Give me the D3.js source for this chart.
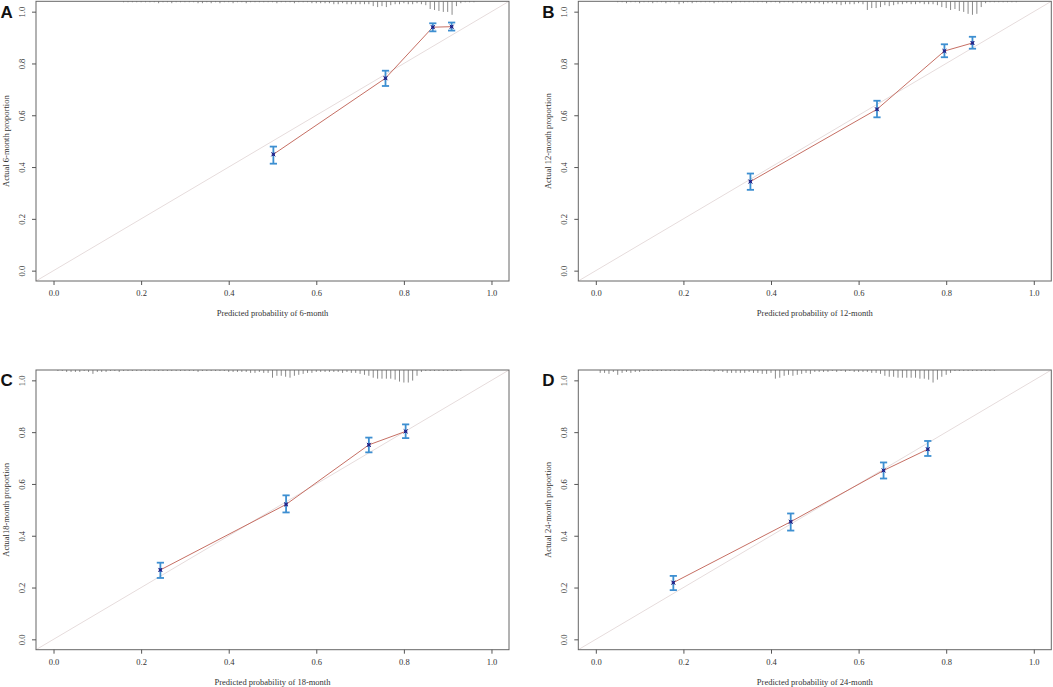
<!DOCTYPE html>
<html><head><meta charset="utf-8">
<script src="https://cdn.jsdelivr.net/npm/d3@7/dist/d3.min.js"></script>
<style>
html,body{margin:0;padding:0;background:#fff;}
svg{display:block;}
</style></head>
<body>
<script>
// ---- data ----
const panelLetters = ["A", "B", "C", "D"];
const yTitles = ["Actual 6-month proportion", "Actual 12-month proportion", "Actual18-month proportion", "Actual 24-month proportion"];
const xTitles = ["Predicted probability of 6-month", "Predicted probability of 12-month", "Predicted probability of 18-month", "Predicted probability of 24-month"];
const tickValues = [0, 0.2, 0.4, 0.6, 0.8, 1.0];
const tickLabels = ["0.0", "0.2", "0.4", "0.6", "0.8", "1.0"];

const predA = [0.502, 0.758, 0.866, 0.909];
const obsA  = [0.449, 0.743, 0.940, 0.942];
const lowA  = [0.413, 0.713, 0.924, 0.927];
const highA = [0.479, 0.772, 0.955, 0.958];

const predB = [0.353, 0.642, 0.796, 0.860];
const obsB  = [0.344, 0.623, 0.848, 0.879];
const lowB  = [0.312, 0.592, 0.824, 0.857];
const highB = [0.375, 0.656, 0.874, 0.903];

const predC = [0.244, 0.531, 0.720, 0.804];
const obsC  = [0.268, 0.521, 0.751, 0.803];
const lowC  = [0.237, 0.490, 0.722, 0.777];
const highC = [0.296, 0.556, 0.779, 0.830];

const predD = [0.177, 0.445, 0.657, 0.758];
const obsD  = [0.219, 0.454, 0.652, 0.734];
const lowD  = [0.190, 0.420, 0.621, 0.708];
const highD = [0.245, 0.486, 0.683, 0.766];

// spike histogram of predicted probabilities (bin width 0.01), relative counts
const spikeStep = 0.01;
const spikeStartA = 0.16;
const spikeA = [1,1,1,1,1,1,1,1,2,1,1,2,1,1,1,
  1,1,2,2,1,2,1,2,1,1,
  2,1,1,2,1,1,1,1,1,1,
  2,1,1,1,2,1,1,1,2,2,
  2,2,2,3,3,2,3,3,3,3,
  3,3,5,6,5,6,4,3,3,2,
  3,3,2,3,4,8,9,10,11,11,
  14,5,2,1,1,1];
const spikeStartB = 0.05;
const spikeB = [1,1,2,1,1,2,1,1,2,1,
  1,2,1,1,3,2,1,2,1,1,
  1,1,2,1,1,1,2,1,1,1,
  1,1,1,1,2,1,1,2,1,1,
  2,1,2,2,2,2,2,3,2,2,
  3,4,3,3,3,2,3,9,7,7,
  6,4,5,4,3,3,2,3,3,2,
  3,3,3,4,6,7,9,8,10,11,
  13,14,13,6,2,1,1,1,1,1,
  1,1];
const spikeStartC = 0.01;
const spikeC = [1,1,2,2,2,2,1,2,4,2,
  2,2,1,1,2,1,1,1,1,1,
  1,1,1,1,1,1,1,1,1,1,
  1,1,2,1,1,1,1,1,1,2,
  2,2,2,2,3,3,2,3,3,8,
  6,6,7,8,6,5,4,3,3,2,
  2,2,2,2,2,3,2,3,3,4,
  5,6,8,9,9,9,9,10,12,13,
  13,11,6,2,1,1,1,1,1,1,
  1,1,1];
const spikeStartD = 0.01;
const spikeD = [3,3,4,2,5,3,2,3,2,2,
  1,1,1,1,1,1,1,1,1,1,
  1,1,1,1,1,1,2,1,2,3,
  3,3,3,3,2,3,3,4,4,3,
  9,8,6,5,6,5,4,3,4,2,
  2,2,2,1,2,1,2,1,2,2,
  2,2,3,3,4,6,7,7,8,8,
  8,8,8,9,9,10,13,10,7,5,
  3,1,1,1,1,1,1,1,1,1,
  1];

const preds = [predA, predB, predC, predD];
const obss = [obsA, obsB, obsC, obsD];
const lows = [lowA, lowB, lowC, lowD];
const highs = [highA, highB, highC, highD];
const spikes = [spikeA, spikeB, spikeC, spikeD];
const spikeStarts = [spikeStartA, spikeStartB, spikeStartC, spikeStartD];

// ---- layout ----
const W = 1053, H = 687;
const svg = d3.select("body").append("svg").attr("width", W).attr("height", H);
const colX = [0, 542.3];
const rowY = [0, 368.7];
const plotL = 36, plotW = 473, plotT = 1.3, plotH = 279.7;
const spikeScale = d3.scaleLinear().domain([0, 14]).range([0, 13.5]);

svg.append("defs").selectAll("clipPath").data(panelLetters).join("clipPath")
  .attr("id", (d, i) => "clip" + i)
  .append("rect").attr("x", 0).attr("y", 0).attr("width", plotW).attr("height", plotH);

panelLetters.forEach((letter, i) => {
  const ox = colX[i % 2], oy = rowY[Math.floor(i / 2)];
  const g = svg.append("g").attr("transform", `translate(${ox + plotL},${oy + plotT})`);
  const x = d3.scaleLinear().domain([-0.04, 1.04]).range([0, plotW]);
  const y = d3.scaleLinear().domain([-0.04, 1.04]).range([plotH, 0]);

  // diagonal reference line
  g.append("line").attr("clip-path", `url(#clip${i})`)
    .attr("x1", x(-0.04)).attr("y1", y(-0.04)).attr("x2", x(1.04)).attr("y2", y(1.04))
    .attr("stroke", "#e6dcdc").attr("stroke-width", 1);

  // spikes
  const sp = spikes[i].map((c, k) => ({ x: spikeStarts[i] + k * spikeStep, c }));
  g.append("g").selectAll("line").data(sp).join("line")
    .attr("x1", d => x(d.x)).attr("x2", d => x(d.x))
    .attr("y1", 0).attr("y2", d => spikeScale(d.c))
    .attr("stroke", "#8a8a8a").attr("stroke-width", 1);

  // calibration line
  const pts = preds[i].map((p, k) => ({ p, o: obss[i][k], lo: lows[i][k], hi: highs[i][k] }));
  g.append("path").datum(pts)
    .attr("d", d3.line().x(d => x(d.p)).y(d => y(d.o)))
    .attr("fill", "none").attr("stroke", "#c66f64").attr("stroke-width", 1);

  // error bars
  const eb = g.append("g").attr("stroke", "#3d8fd1").attr("stroke-width", 1.8).attr("fill", "none");
  pts.forEach(d => {
    eb.append("line").attr("x1", x(d.p)).attr("x2", x(d.p)).attr("y1", y(d.lo)).attr("y2", y(d.hi));
    eb.append("line").attr("x1", x(d.p) - 3.6).attr("x2", x(d.p) + 3.6).attr("y1", y(d.lo)).attr("y2", y(d.lo));
    eb.append("line").attr("x1", x(d.p) - 3.6).attr("x2", x(d.p) + 3.6).attr("y1", y(d.hi)).attr("y2", y(d.hi));
  });

  // points
  g.append("g").selectAll("rect").data(pts).join("rect")
    .attr("x", d => x(d.p) - 1.6).attr("y", d => y(d.o) - 1.6).attr("width", 3.2).attr("height", 3.2)
    .attr("fill", "#3a3fa8");
  g.append("g").selectAll("path").data(pts).join("path")
    .attr("transform", d => `translate(${x(d.p)},${y(d.o)})`)
    .attr("d", d3.symbol(d3.symbolTimes, 12))
    .attr("fill", "none").attr("stroke", "#1b1f7a").attr("stroke-width", 1);

  // frame
  g.append("rect").attr("x", 0).attr("y", 0).attr("width", plotW).attr("height", plotH)
    .attr("fill", "none").attr("stroke", "#666").attr("stroke-width", 1);

  // axes
  const xa = g.append("g").attr("transform", `translate(0,${plotH})`)
    .call(d3.axisBottom(x).tickValues(tickValues).tickFormat((d, k) => tickLabels[k]).tickSizeOuter(0).tickSize(4).tickPadding(5));
  const ya = g.append("g")
    .call(d3.axisLeft(y).tickValues(tickValues).tickFormat((d, k) => tickLabels[k]).tickSizeOuter(0).tickSize(4).tickPadding(5));
  [xa, ya].forEach(a => {
    a.select(".domain").remove();
    a.selectAll(".tick line").attr("stroke", "#555");
    a.selectAll("text").attr("font-family", "Liberation Serif, Times New Roman, serif")
      .attr("font-size", 8.5).attr("fill", "#333");
  });
  ya.selectAll(".tick text")
    .attr("transform", function () { return "rotate(-90)"; })
    .attr("x", 0).attr("dy", 0).attr("y", -11).attr("text-anchor", "middle");

  // titles
  g.append("text").attr("x", plotW / 2).attr("y", plotH + 35)
    .attr("text-anchor", "middle").attr("font-family", "Liberation Serif, Times New Roman, serif")
    .attr("font-size", 8.5).attr("fill", "#333").text(xTitles[i]);
  g.append("text").attr("transform", `translate(${-27.3},${plotH / 2}) rotate(-90)`)
    .attr("text-anchor", "middle").attr("font-family", "Liberation Serif, Times New Roman, serif")
    .attr("font-size", 8.5).attr("fill", "#333").text(yTitles[i]);

  // panel letter
  svg.append("text").attr("x", ox + (i % 2 ? 0 : 0.5)).attr("y", oy + 17.5)
    .attr("font-family", "Liberation Sans, Arial, sans-serif").attr("font-weight", "bold")
    .attr("font-size", 17).attr("fill", "#111").text(letter);
});
</script>
</body></html>
